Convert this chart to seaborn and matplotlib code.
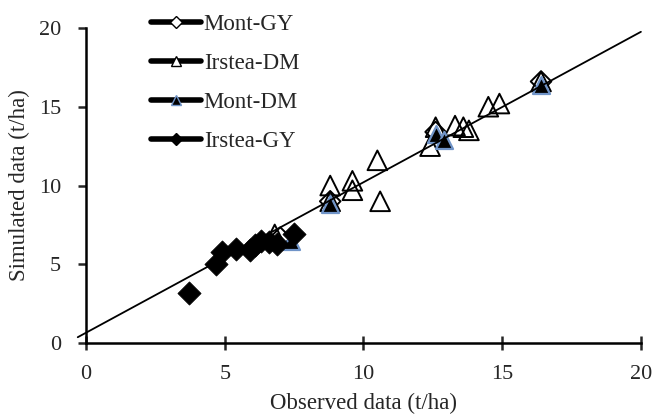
import numpy as np
import pandas as pd
import seaborn as sns
import matplotlib.pyplot as plt
from matplotlib.lines import Line2D

# observed vs simulated yields (t/ha)
mont_gy_obs = [7.0, 8.8, 12.6, 16.4]
mont_gy_sim = [6.7, 9.0, 13.4, 16.6]

irstea_dm_obs = [6.8, 8.8, 8.8, 9.6, 9.6, 10.5, 10.6, 12.4, 12.6, 13.3, 13.6, 13.8, 14.5, 14.9, 16.4]
irstea_dm_sim = [6.9, 10.0, 9.0, 10.3, 9.7, 11.6, 9.0, 12.5, 13.7, 13.8, 13.7, 13.5, 15.0, 15.2, 16.6]

mont_dm_obs = [7.4, 8.8, 12.6, 12.9, 16.4]
mont_dm_sim = [6.5, 8.8, 13.3, 12.9, 16.4]

irstea_gy_obs = [3.7, 4.7, 4.9, 5.4, 5.9, 6.1, 6.3, 6.6, 6.9, 7.5]
irstea_gy_sim = [3.2, 5.0, 5.8, 6.0, 5.9, 6.2, 6.5, 6.4, 6.3, 6.9]

fit_x = [-0.3, 20.0]
fit_y = [0.38, 19.75]

sns.set_style("ticks")
plt.rcParams["font.family"] = ["Liberation Serif", "DejaVu Serif"]

fig = plt.figure(figsize=(6.52, 4.16), dpi=100)
ax = fig.add_axes([0.132, 0.175, 0.851, 0.758])

sns.scatterplot(x=irstea_dm_obs, y=irstea_dm_sim, marker="^", s=200, facecolor="none",
                edgecolor="black", linewidth=1.4, ax=ax, zorder=3)
sns.scatterplot(x=mont_gy_obs, y=mont_gy_sim, marker="D", s=110, facecolor="none",
                edgecolor="black", linewidth=1.4, ax=ax, zorder=3)
sns.scatterplot(x=mont_dm_obs, y=mont_dm_sim, marker="^", s=150, color="black",
                edgecolor="#7094c8", linewidth=1.6, ax=ax, zorder=4)
sns.scatterplot(x=irstea_gy_obs, y=irstea_gy_sim, marker="D", s=140, color="black",
                edgecolor="black", linewidth=0.5, ax=ax, zorder=5)
sns.lineplot(x=fit_x, y=fit_y, color="black", linewidth=1.3, ax=ax, zorder=6)
for ln in ax.get_lines():
    ln.set_clip_on(False)

ax.set_xlim(0, 20)
ax.set_ylim(0, 20)
ax.set_xticks([0, 5, 10, 15, 20])
ax.set_yticks([0, 5, 10, 15, 20])
for s in ["top", "right"]:
    ax.spines[s].set_visible(False)
for s in ["left", "bottom"]:
    ax.spines[s].set_linewidth(1.8)
    ax.spines[s].set_color("black")
ax.tick_params(axis="x", direction="inout", length=10, width=1.8, labelsize=16, pad=11)
ax.tick_params(axis="y", direction="out", length=6, width=1.8, labelsize=16, pad=12)
ax.set_xlabel("Observed data (t/ha)", fontsize=16.5, labelpad=6)
ax.set_ylabel("Simulated data (t/ha)", fontsize=16.5, labelpad=6)

handles = [
    Line2D([], [], color="black", lw=4, marker="D", markersize=6, mfc="white", mec="black"),
    Line2D([], [], color="black", lw=4, marker="^", markersize=7, mfc="white", mec="black"),
    Line2D([], [], color="black", lw=4, marker="^", markersize=7, mfc="black", mec="#7094c8"),
    Line2D([], [], color="black", lw=4, marker="D", markersize=6, mfc="black", mec="black"),
]
labels = ["Mont-GY", "Irstea-DM", "Mont-DM", "Irstea-GY"]
fig.legend(handles, labels, loc="upper left", bbox_to_anchor=(0.207, 1.005), frameon=False,
           fontsize=16.5, handlelength=2.2, handletextpad=0.1, labelspacing=0.78,
           borderaxespad=0.3)

fig.savefig("out.png", dpi=100)
